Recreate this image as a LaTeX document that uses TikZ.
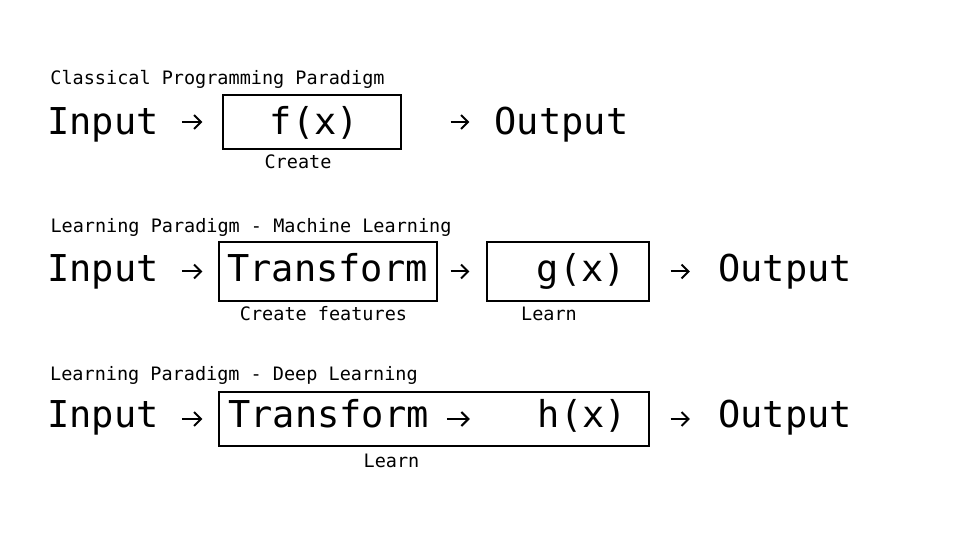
\documentclass[tikz,border=0pt]{standalone}
\usepackage{fontspec}
\setmonofont{DejaVu Sans Mono}
\usepackage{tikz}
\usetikzlibrary{arrows.meta}

\tikzset{
  bigword/.style={font=\ttfamily\fontsize{37}{44}\selectfont, inner sep=0pt, anchor=base},
  smallword/.style={font=\ttfamily\fontsize{18.5}{22}\selectfont, inner sep=0pt, anchor=base},
  frame/.style={draw, line width=1.1pt, inner sep=0pt},
  arr/.style={line width=2pt, -{Straight Barb[length=7pt,width=14pt,line width=2pt]}}
}

\begin{document}
\begin{tikzpicture}[x=1pt,y=1pt]
\useasboundingbox (0,0) rectangle (960,540);
\node[smallword] (title1) at (217.5,455) {Classical Programming Paradigm};
\node[bigword] (in1) at (103,405) {Input};
\node[frame, minimum width=178pt, minimum height=54pt] (box1) at (312,418) {};
	\node[bigword] (f) at (314.5,405) {f(x)};
	\node[smallword] (create1) at (298,371) {Create};
\node[bigword] (out1) at (561.5,405) {Output};
\draw[arr, shorten <=23pt, shorten >=20pt] (in1.east |- box1.center) -- (box1.west);
\draw[arr, shorten <=49pt, shorten >=25pt] (box1.east) -- (out1.west |- box1.center);

\node[smallword] (title2) at (251,307) {Learning Paradigm - Machine Learning};
\node[bigword] (in2) at (103,258) {Input};
\node[frame, minimum width=218pt, minimum height=59pt] (box2) at (328,268.5) {};
	\node[bigword] (tr2) at (327.5,258) {Transform};
	\node[smallword] (create2) at (323.5,219) {Create features};
\node[frame, minimum width=162pt, minimum height=59pt] (box3) at (568,268.5) {};
	\node[bigword] (g) at (581.5,258) {g(x)};
	\node[smallword] (learn2) at (549,219) {Learn};
\node[bigword] (out2) at (785,258) {Output};
\draw[arr, shorten <=23pt, shorten >=16pt] (in2.east |- box2.center) -- (box2.west);
\draw[arr, shorten <=13pt, shorten >=17pt] (box2.east) -- (box3.west);
\draw[arr, shorten <=21pt, shorten >=28pt] (box3.east) -- (out2.west |- box3.center);

\node[smallword] (title3) at (234,159) {Learning Paradigm - Deep Learning};
\node[bigword] (in3) at (103,112) {Input};
\node[frame, minimum width=430pt, minimum height=54pt] (box4) at (434,121) {};
	\node[bigword] (tr3) at (328.5,112) {Transform};
	\node[bigword] (h) at (582.5,112) {h(x)};
	\node[smallword] (learn3) at (391.5,72) {Learn};
\node[bigword] (out3) at (785,112) {Output};
\draw[arr, shorten <=23pt, shorten >=16pt] (in3.east |- box4.center) -- (box4.west);
\draw[arr, shorten <=18pt, shorten >=68pt] (tr3.east |- box4.center) -- (h.west |- box4.center);
\draw[arr, shorten <=21pt, shorten >=28pt] (box4.east) -- (out3.west |- box4.center);
\end{tikzpicture}
\end{document}
